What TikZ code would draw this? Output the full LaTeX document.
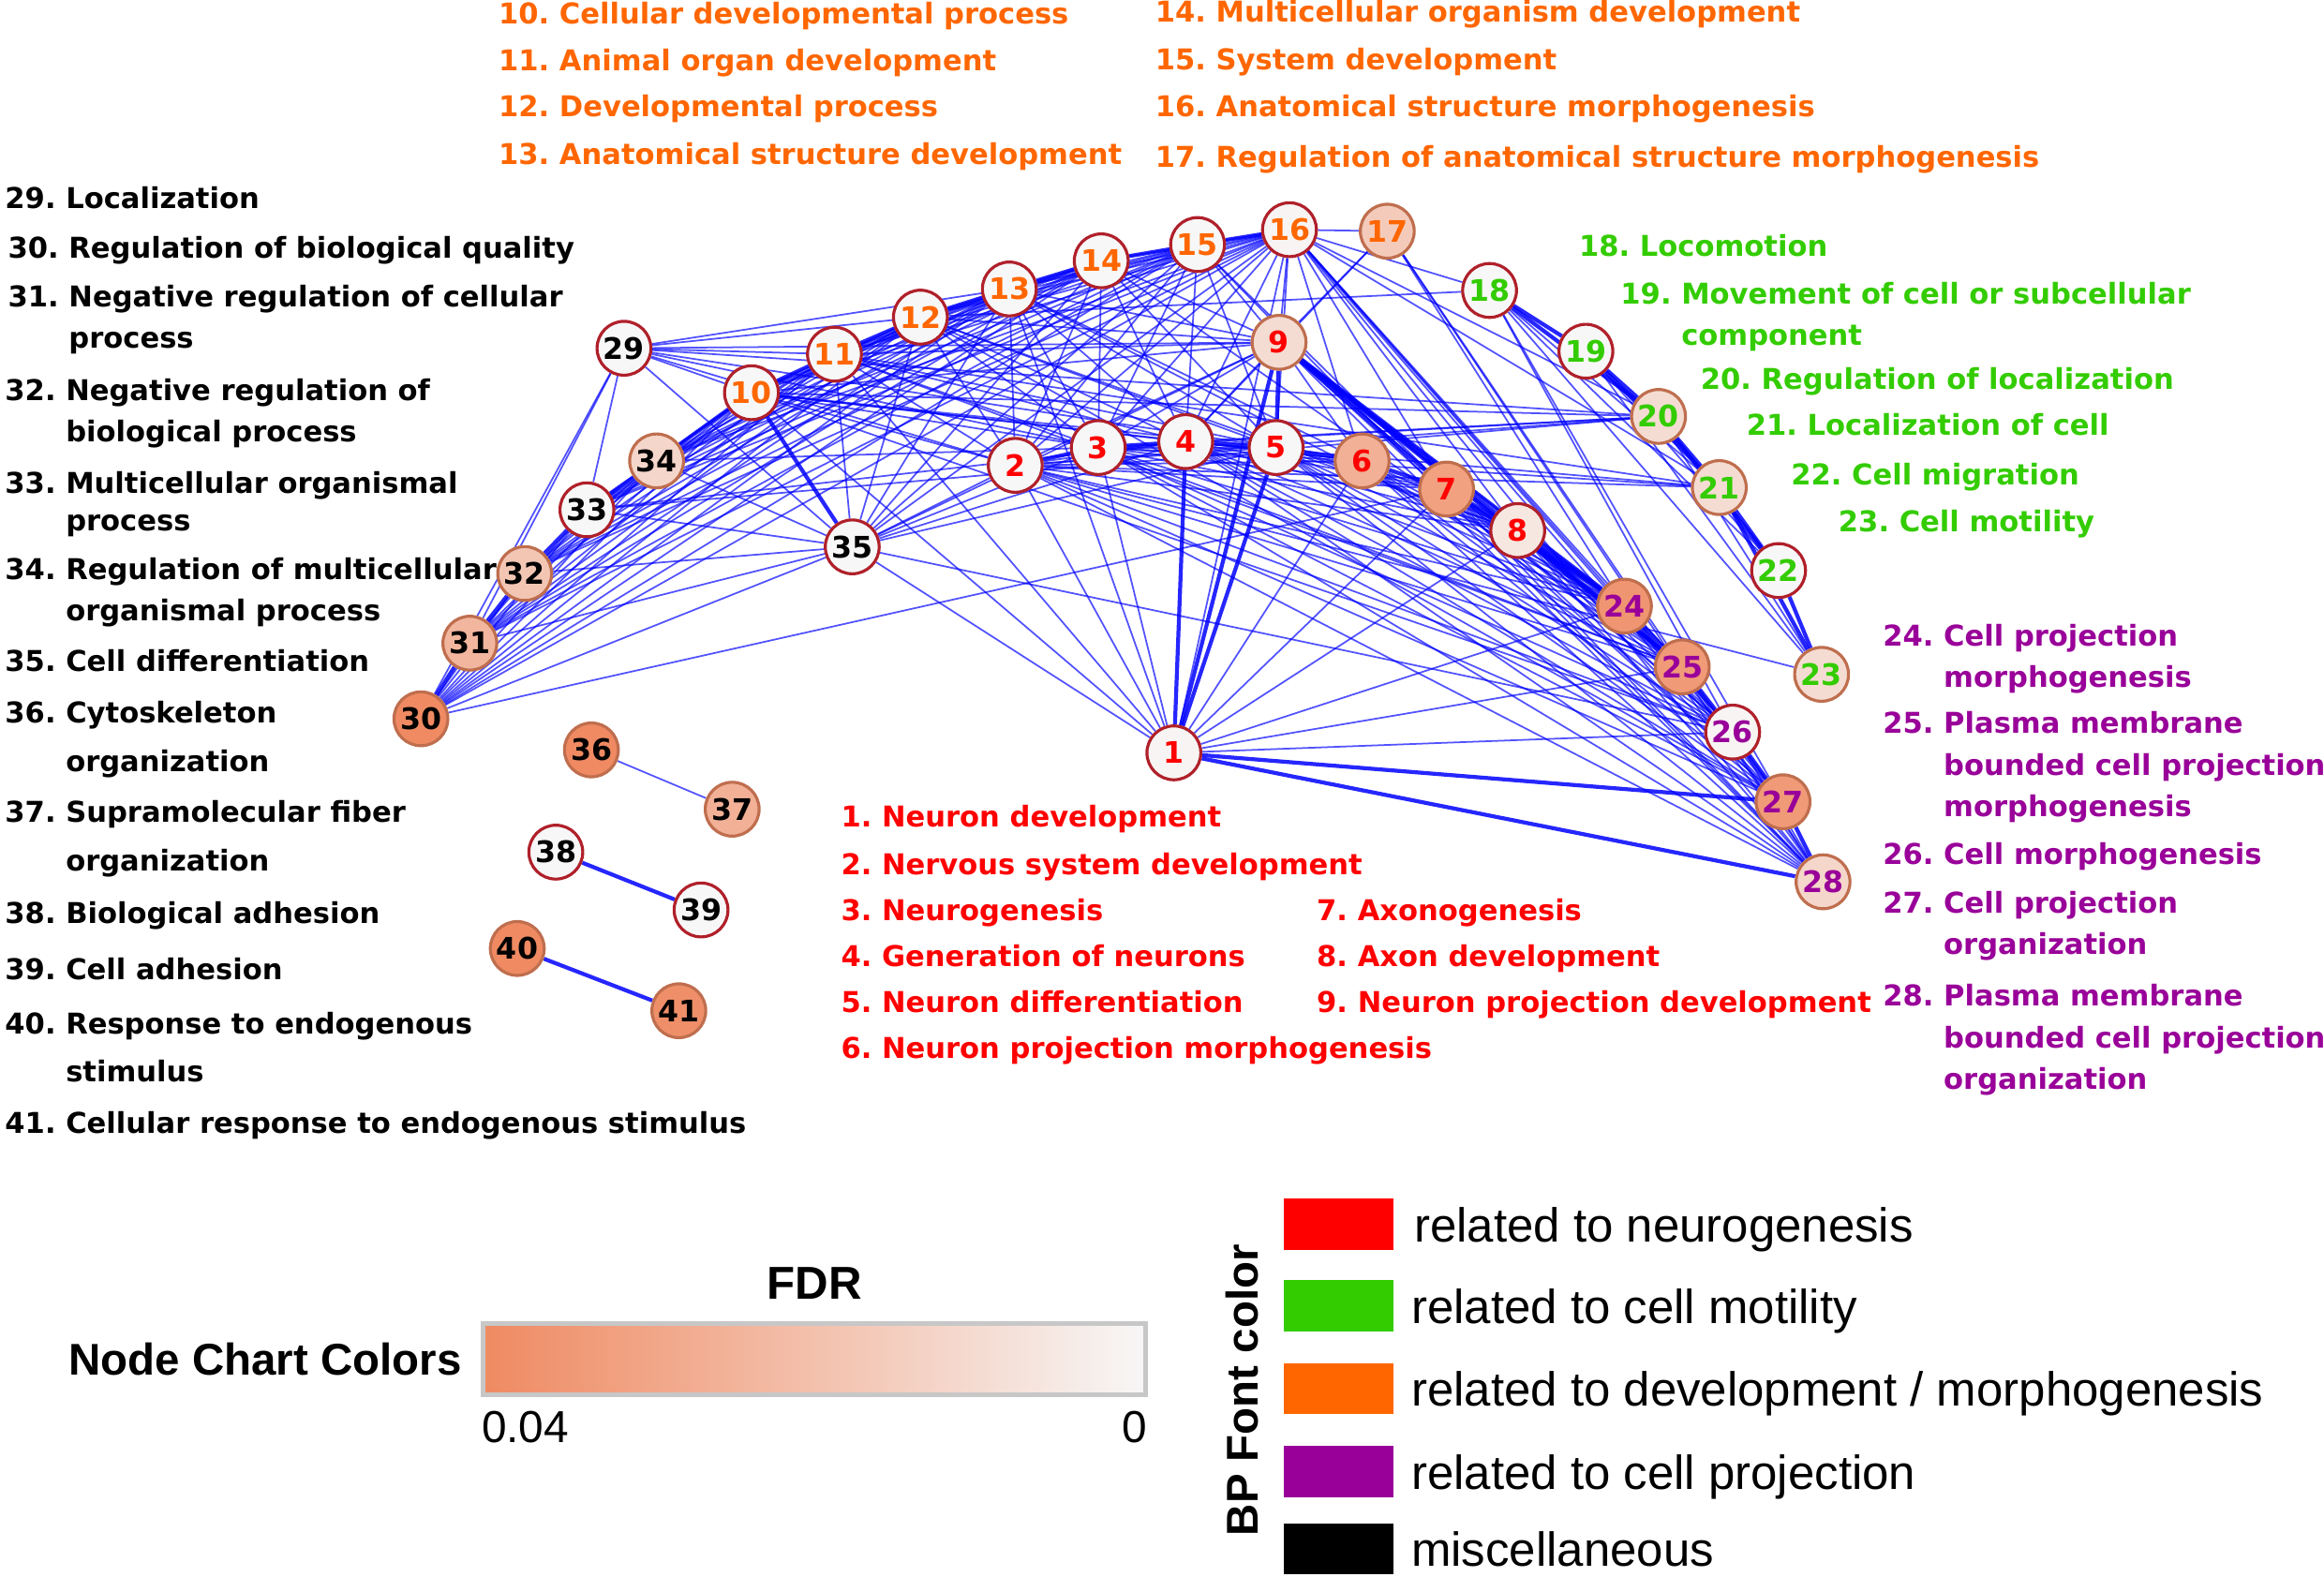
\documentclass[tikz,border=0pt]{standalone}
\usepackage{fontspec}
\setsansfont{DejaVu Sans}
\newfontfamily\legendfont{Liberation Sans}
\usepackage{xcolor}
\usepackage{tikz}
\usetikzlibrary{positioning, backgrounds}

\definecolor{fdrhi}{HTML}{EF8A62}
\definecolor{fdrlo}{HTML}{F7F7F7}
\definecolor{rimred}{HTML}{B0202A}
\definecolor{neuro}{HTML}{FF0000}
\definecolor{motil}{HTML}{33CC00}
\definecolor{devel}{HTML}{FF6600}
\definecolor{proj}{HTML}{990099}
\definecolor{edgeblue}{HTML}{0000FF}

\newcommand{\goterm}[2]{\begin{tabular}[t]{@{}l@{\ }l@{}}#1&#2\end{tabular}}
\newcommand{\nl}{\\&}

\begin{document}
\begin{tikzpicture}[
  x=0.15816mm, y=-0.15816mm,
  term/.style={
    circle,
    draw=rimred,
    line width=0.9pt,
    fill=fdrhi!#1!fdrlo,
    minimum size=5.75mm,
    inner sep=0pt,
    font=\sffamily\bfseries\fontsize{9}{9}\selectfont
  },
  peach/.style={
    term=#1,
    draw=fdrhi!80!black
  },
  golabel/.style={
    anchor=base west,
    inner sep=0pt,
    font=\sffamily\bfseries\fontsize{8.7}{12.6}\selectfont
  },
  link/.style={
    draw=edgeblue,
    line width=0.5pt,
    opacity=0.68
  },
  bond/.style={
    draw=edgeblue,
    line width=1.2pt,
    opacity=0.85
  },
  swatch/.style={
    rectangle,
    fill=#1,
    minimum width=11.7mm,
    minimum height=5.45mm,
    inner sep=0pt
  },
  keytext/.style={
    anchor=base west,
    inner sep=0pt,
    font=\legendfont\fontsize{14.5}{14.5}\selectfont
  }
]
\useasboundingbox (0,0) rectangle (1568,1063.5);

% Neurogenesis terms
\node[term=3, text=neuro] (n1) at (792,508) {1};
\node[term=0, text=neuro] (n2) at (685,314) {2};
\node[term=0, text=neuro] (n3) at (741,302) {3};
\node[term=0, text=neuro] (n4) at (800,298) {4};
\node[term=0, text=neuro] (n5) at (861,302) {5};
\node[peach=65, text=neuro] (n6) at (919,311) {6};
\node[peach=80, text=neuro] (n7) at (976,330) {7};
\node[term=15, text=neuro] (n8) at (1024,358) {8};
\node[peach=25, text=neuro] (n9) at (863,231) {9};

% Development / morphogenesis terms
\node[term=0, text=devel] (n10) at (507,265) {10};
\node[term=0, text=devel] (n11) at (563,239) {11};
\node[term=0, text=devel] (n12) at (621,214) {12};
\node[term=0, text=devel] (n13) at (681,195) {13};
\node[term=0, text=devel] (n14) at (743,176) {14};
\node[term=0, text=devel] (n15) at (808,165) {15};
\node[term=3, text=devel] (n16) at (870,155) {16};
\node[peach=40, text=devel] (n17) at (936,156) {17};

% Cell motility terms
\node[term=0, text=motil] (n18) at (1005,196) {18};
\node[term=0, text=motil] (n19) at (1070,237) {19};
\node[peach=25, text=motil] (n20) at (1119,281) {20};
\node[peach=25, text=motil] (n21) at (1160,329) {21};
\node[term=0, text=motil] (n22) at (1200,385) {22};
\node[peach=25, text=motil] (n23) at (1229,455) {23};

% Cell projection terms
\node[peach=90, text=proj] (n24) at (1096,409) {24};
\node[peach=85, text=proj] (n25) at (1135,450) {25};
\node[term=3, text=proj] (n26) at (1169,494) {26};
\node[peach=85, text=proj] (n27) at (1203,541) {27};
\node[peach=30, text=proj] (n28) at (1230,595) {28};

% Miscellaneous terms
\node[term=0] (n29) at (421,235) {29};
\node[peach=100] (n30) at (284,485) {30};
\node[peach=60] (n31) at (317,434) {31};
\node[peach=45] (n32) at (354,387) {32};
\node[term=0] (n33) at (396,344) {33};
\node[peach=30] (n34) at (443,311) {34};
\node[term=0] (n35) at (575,369) {35};
\node[peach=100] (n36) at (399,506) {36};
\node[peach=65] (n37) at (494,546) {37};
\node[term=0] (n38) at (375,575) {38};
\node[term=0] (n39) at (473,614) {39};
\node[peach=100] (n40) at (349,640) {40};
\node[peach=95] (n41) at (458,682) {41};

% Similarity edges behind the terms
\begin{pgfonlayer}{background}
\foreach \a in {30,...,34}
  \foreach \b in {10,...,16}
    \draw[link] (n\a) -- (n\b);
\foreach \a in {10,...,16}
  \foreach \b in {2,3,4,5,9}
    \draw[link] (n\a) -- (n\b);
\foreach \a in {2,...,9}
  \foreach \b in {24,...,28}
    \draw[link] (n\a) -- (n\b);
\foreach \b in {11,...,16,9,2,3,4,5,30,31,32,33,34,1,26}
  \draw[link] (n35) -- (n\b);
\foreach \a/\b in {10/12,10/13,10/14,10/15,10/16,11/13,11/14,11/15,11/16,
    12/14,12/15,12/16,13/15,13/16,14/16,30/32,30/33,30/34,31/33,31/34,32/34,
    29/10,29/11,29/12,29/13,29/9,29/20,29/2,29/3,29/5,29/35,29/30,29/31,29/33,
    10/6,13/6,15/7,16/6,16/7,16/8,12/8,10/20,11/21,33/4,34/3,33/20,30/7,
    10/26,11/25,12/27,13/24,14/25,15/28,16/24,16/25,16/26,16/27,16/28,
    16/17,16/18,16/20,16/21,17/9,17/4,17/24,17/25,17/28,18/12,18/26,18/27,
    2/4,2/5,2/6,2/7,2/8,3/5,3/6,3/7,3/8,4/6,4/7,4/8,5/7,5/8,6/8,
    9/2,9/3,9/4,9/6,1/2,1/3,1/6,1/7,1/8,1/24,1/25,1/26,1/10,1/11,1/13,1/16,
    18/21,18/22,18/23,19/22,19/23,20/23,20/2,20/3,20/4,21/2,21/3,21/4,23/2,
    24/26,24/27,24/28,25/27,25/28,26/28,36/37}
  \draw[link] (n\a) -- (n\b);
\foreach \a/\b in {30/31,31/32,32/33,33/34,34/10,10/11,11/12,12/13,13/14,
    14/15,15/16,35/10,2/3,3/4,4/5,5/6,6/7,7/8,9/5,9/7,9/8,9/24,9/25,7/24,
    8/24,8/25,1/4,1/5,1/9,1/27,1/28,18/19,19/20,20/21,21/22,22/23,18/20,
    19/21,20/22,21/23,24/25,25/26,26/27,27/28,38/39,40/41}
  \draw[bond] (n\a) -- (n\b);
\end{pgfonlayer}

% Term names
\node[golabel, text=neuro] (lab1) at (567,558) {\goterm{1.}{Neuron development}};
\node[golabel, text=neuro] (lab2) at (567,590) {\goterm{2.}{Nervous system development}};
\node[golabel, text=neuro] (lab3) at (567,621) {\goterm{3.}{Neurogenesis}};
\node[golabel, text=neuro] (lab4) at (567,652) {\goterm{4.}{Generation of neurons}};
\node[golabel, text=neuro] (lab5) at (567,683) {\goterm{5.}{Neuron differentiation}};
\node[golabel, text=neuro] (lab6) at (567,714) {\goterm{6.}{Neuron projection morphogenesis}};
\node[golabel, text=neuro] (lab7) at (888,621) {\goterm{7.}{Axonogenesis}};
\node[golabel, text=neuro] (lab8) at (888,652) {\goterm{8.}{Axon development}};
\node[golabel, text=neuro] (lab9) at (888,683) {\goterm{9.}{Neuron projection development}};

\node[golabel, text=devel] (lab10) at (336,16) {\goterm{10.}{Cellular developmental process}};
\node[golabel, text=devel] (lab11) at (336,48) {\goterm{11.}{Animal organ development}};
\node[golabel, text=devel] (lab12) at (336,79) {\goterm{12.}{Developmental process}};
\node[golabel, text=devel] (lab13) at (336,111) {\goterm{13.}{Anatomical structure development}};
\node[golabel, text=devel] (lab14) at (779,15) {\goterm{14.}{Multicellular organism development}};
\node[golabel, text=devel] (lab15) at (779,47) {\goterm{15.}{System development}};
\node[golabel, text=devel] (lab16) at (779,79) {\goterm{16.}{Anatomical structure morphogenesis}};
\node[golabel, text=devel] (lab17) at (779,113) {\goterm{17.}{Regulation of anatomical structure morphogenesis}};

\node[golabel, text=motil] (lab18) at (1065,173) {\goterm{18.}{Locomotion}};
\node[golabel, text=motil] (lab19) at (1093,205) {\goterm{19.}{Movement of cell or subcellular\nl component}};
\node[golabel, text=motil] (lab20) at (1147,263) {\goterm{20.}{Regulation of localization}};
\node[golabel, text=motil] (lab21) at (1178,294) {\goterm{21.}{Localization of cell}};
\node[golabel, text=motil] (lab22) at (1208,327) {\goterm{22.}{Cell migration}};
\node[golabel, text=motil] (lab23) at (1240,359) {\goterm{23.}{Cell motility}};

\node[golabel, text=proj] (lab24) at (1270,436) {\goterm{24.}{Cell projection\nl morphogenesis}};
\node[golabel, text=proj] (lab25) at (1270,495) {\goterm{25.}{Plasma membrane\nl bounded cell projection\nl morphogenesis}};
\node[golabel, text=proj] (lab26) at (1270,583) {\goterm{26.}{Cell morphogenesis}};
\node[golabel, text=proj] (lab27) at (1270,616) {\goterm{27.}{Cell projection\nl organization}};
\node[golabel, text=proj] (lab28) at (1270,679) {\goterm{28.}{Plasma membrane\nl bounded cell projection\nl organization}};

\node[golabel] (lab29) at (3,141) {\goterm{29.}{Localization}};
\node[golabel] (lab30) at (5,174) {\goterm{30.}{Regulation of biological quality}};
\node[golabel] (lab31) at (5,207) {\goterm{31.}{Negative regulation of cellular\nl process}};
\node[golabel] (lab32) at (3,270) {\goterm{32.}{Negative regulation of\nl biological process}};
\node[golabel] (lab33) at (3,333) {\goterm{33.}{Multicellular organismal\\[-1.3pt]& process}};
\node[golabel] (lab34) at (3,391) {\goterm{34.}{Regulation of multicellular\nl organismal process}};
\node[golabel] (lab35) at (3,453) {\goterm{35.}{Cell differentiation}};
\node[golabel] (lab36) at (3,488) {\goterm{36.}{Cytoskeleton\\[2.2pt]& organization}};
\node[golabel] (lab37) at (3,555) {\goterm{37.}{Supramolecular fiber\\[2.2pt]& organization}};
\node[golabel] (lab38) at (3,623) {\goterm{38.}{Biological adhesion}};
\node[golabel] (lab39) at (3,661) {\goterm{39.}{Cell adhesion}};
\node[golabel] (lab40) at (3,698) {\goterm{40.}{Response to endogenous\\[1.8pt]& stimulus}};
\node[golabel] (lab41) at (3,765) {\goterm{41.}{Cellular response to endogenous stimulus}};

% FDR colour bar
\node[draw=black!22, line width=1.3pt, left color=fdrhi, right color=fdrlo,
  minimum width=70.7mm, minimum height=7.6mm, inner sep=0pt] (fdrbar) at (549.5,917) {};
\node[font=\legendfont\bfseries\fontsize{14}{14}\selectfont, inner sep=0pt,
  above=2.3mm of fdrbar] (fdrtitle) {FDR};
\node[font=\legendfont\bfseries\fontsize{13.5}{13.5}\selectfont, inner sep=0pt,
  left=2mm of fdrbar] (charttitle) {Node Chart Colors};
\node[font=\legendfont\fontsize{13.6}{13.6}\selectfont, inner sep=0pt, anchor=north west]
  (fdrmax) at ([yshift=-1.5mm]fdrbar.south west) {0.04};
\node[font=\legendfont\fontsize{13.6}{13.6}\selectfont, inner sep=0pt, anchor=north east]
  (fdrmin) at ([yshift=-1.5mm]fdrbar.south east) {0};

% Font colour key
\node[rotate=90, font=\legendfont\bfseries\fontsize{13.5}{13.5}\selectfont] (bptitle) at (838,938) {BP Font color};
\node[swatch=neuro] (sw1) at (903,826) {};
\node[swatch=motil] (sw2) at (903,881) {};
\node[swatch=devel] (sw3) at (903,937) {};
\node[swatch=proj] (sw4) at (903,993) {};
\node[swatch=black] (sw5) at (903,1045) {};
\node[keytext] (key1) at ([xshift=2.1mm, yshift=-1.9mm]sw1.east) {related to neurogenesis};
\node[keytext] (key2) at ([xshift=1.8mm, yshift=-1.9mm]sw2.east) {related to cell motility};
\node[keytext] (key3) at ([xshift=1.8mm, yshift=-1.9mm]sw3.east) {related to development / morphogenesis};
\node[keytext] (key4) at ([xshift=1.8mm, yshift=-1.9mm]sw4.east) {related to cell projection};
\node[keytext] (key5) at ([xshift=1.8mm, yshift=-1.9mm]sw5.east) {miscellaneous};
\end{tikzpicture}
\end{document}
